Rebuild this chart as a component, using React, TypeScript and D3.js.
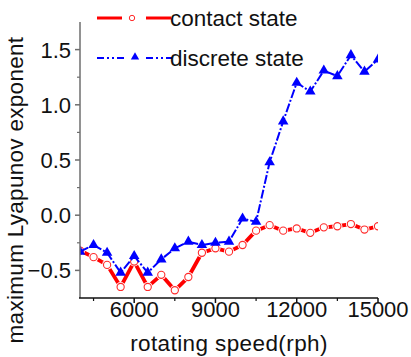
import React from "react";
import * as d3 from "d3";

const speeds = [
  4000, 4500, 5000, 5500, 6000, 6500, 7000, 7500, 8000, 8500, 9000, 9500,
  10000, 10500, 11000, 11500, 12000, 12500, 13000, 13500, 14000, 14500, 15000,
];
const contactState = [
  -0.32, -0.38, -0.45, -0.65, -0.42, -0.65, -0.54, -0.68, -0.56, -0.34, -0.3,
  -0.33, -0.27, -0.14, -0.09, -0.14, -0.12, -0.16, -0.11, -0.1, -0.08, -0.13,
  -0.1,
];
const discreteState = [
  -0.33, -0.27, -0.34, -0.52, -0.37, -0.52, -0.4, -0.3, -0.24, -0.27, -0.25,
  -0.24, -0.03, -0.06, 0.48, 0.85, 1.2, 1.12, 1.31, 1.26, 1.45, 1.3, 1.41,
];
const xMajorTicks = [6000, 9000, 12000, 15000];
const xMinorTicks = [4500, 7500, 10500, 13500];
const yMajorTicks = [-0.5, 0, 0.5, 1.0, 1.5];
const yMinorTicks = [-0.25, 0.25, 0.75, 1.25];
const seriesNames = ["contact state", "discrete state"];

const W = 411;
const H = 357;
const left = 80;
const right = 378;
const top = 22;
const bottom = 298;
const FONT = "'Liberation Sans', Arial, sans-serif";
const BLUE_DASH = "9 2 2 2";

export default function App() {
  const x = d3.scaleLinear().domain([4000, 15000]).range([left, right]);
  const y = d3.scaleLinear().domain([-0.75, 1.75]).range([bottom, top]);

  const line = d3
    .line<number>()
    .x((_, i) => x(speeds[i]))
    .y((v) => y(v));

  const tri = d3.symbol().type(d3.symbolTriangle).size(48)();
  const triSmall = d3.symbol().type(d3.symbolTriangle).size(30)();

  const axisGray = "#6e6e6e";

  return (
    <svg
      width={W}
      height={H}
      style={{ position: "absolute", left: 0, top: 0, background: "#fff" }}
      fontFamily={FONT}
    >
      <defs>
        <clipPath id="plotClip">
          <rect x={left} y={0} width={right - left} height={bottom} />
        </clipPath>
      </defs>

      <g clipPath="url(#plotClip)">
        {/* contact state: thick solid red line with open circles */}
        <path
          d={line(contactState) || ""}
          fill="none"
          stroke="#ff0000"
          strokeWidth={3.8}
          strokeLinejoin="round"
        />
        {contactState.map((v, i) => (
          <circle
            key={"cg" + i}
            cx={x(speeds[i])}
            cy={y(v)}
            r={5}
            fill="#fff"
          />
        ))}
        {contactState.map((v, i) => (
          <circle
            key={"c" + i}
            cx={x(speeds[i])}
            cy={y(v)}
            r={3.6}
            fill="#fff"
            stroke="#ff2a2a"
            strokeWidth={1.1}
          />
        ))}

        {/* discrete state: dash-dot blue line with filled triangles */}
        <path
          d={line(discreteState) || ""}
          fill="none"
          stroke="#0000ff"
          strokeWidth={2}
          strokeDasharray={BLUE_DASH}
          strokeLinejoin="round"
        />
        {discreteState.map((v, i) => (
          <path
            key={"d" + i}
            d={tri || ""}
            transform={`translate(${x(speeds[i])},${y(v)})`}
            fill="#0000ff"
          />
        ))}
      </g>

      {/* y axis */}
      <line x1={left} x2={left} y1={top} y2={bottom} stroke={axisGray} strokeWidth={1.5} />
      {yMajorTicks.map((t) => (
        <g key={"ym" + t}>
          <line x1={left - 5} x2={left} y1={y(t)} y2={y(t)} stroke={axisGray} strokeWidth={1.5} />
          <text
            x={left - 9}
            y={y(t)}
            dy="0.36em"
            textAnchor="end"
            fontSize={22}
            fill="#111"
          >
            {d3.format(".1f")(t)}
          </text>
        </g>
      ))}
      {yMinorTicks.map((t) => (
        <line key={"yn" + t} x1={left - 3} x2={left} y1={y(t)} y2={y(t)} stroke={axisGray} strokeWidth={1.2} />
      ))}

      {/* x axis */}
      <line x1={left - 1} x2={right} y1={bottom} y2={bottom} stroke="#111" strokeWidth={1.5} />
      {xMajorTicks.map((t) => (
        <g key={"xm" + t}>
          <line x1={x(t)} x2={x(t)} y1={bottom} y2={bottom + 5} stroke="#111" strokeWidth={1.5} />
          <text
            x={x(t)}
            y={bottom + 19}
            textAnchor="middle"
            fontSize={22}
            fill="#111"
          >
            {t}
          </text>
        </g>
      ))}
      {xMinorTicks.map((t) => (
        <line key={"xn" + t} x1={x(t)} x2={x(t)} y1={bottom} y2={bottom + 3} stroke="#111" strokeWidth={1.2} />
      ))}

      {/* axis titles */}
      <text
        x={(left + right) / 2}
        y={351}
        textAnchor="middle"
        fontSize={22.5}
        letterSpacing={0.4}
        fill="#111"
      >
        rotating speed(rph)
      </text>
      <text
        transform={`translate(23,${190}) rotate(-90)`}
        textAnchor="middle"
        fontSize={22.5}
        letterSpacing={0.3}
        fill="#111"
      >
        maximum Lyapunov exponent
      </text>

      {/* legend */}
      <g>
        <line x1={97} x2={122} y1={18} y2={18} stroke="#ff0000" strokeWidth={3} />
        <line x1={146} x2={171} y1={18} y2={18} stroke="#ff0000" strokeWidth={3} />
        <circle cx={132} cy={18} r={2.7} fill="#fff" stroke="#ff2a2a" strokeWidth={1} />
        <text x={170} y={26} fontSize={22.5} fill="#111">
          {seriesNames[0]}
        </text>

        <line x1={97} x2={124} y1={58} y2={58} stroke="#0000ff" strokeWidth={1.8} strokeDasharray="7 3 2 3 2 3" />
        <line x1={146} x2={172} y1={58} y2={58} stroke="#0000ff" strokeWidth={1.8} strokeDasharray="7 3 2 3 2 3" />
        <path d={triSmall || ""} transform="translate(135,57)" fill="#0000ff" />
        <text x={170} y={66} fontSize={22.5} fill="#111">
          {seriesNames[1]}
        </text>
      </g>
    </svg>
  );
}
